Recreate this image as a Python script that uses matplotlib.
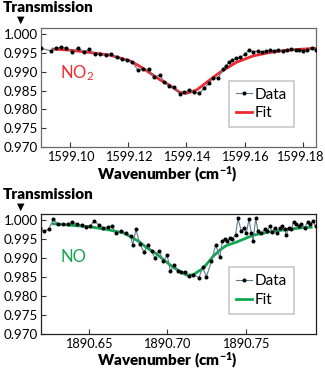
#=========================================================================
# transmission spectra: NO2 and NO lines with fits
#=========================================================================

import matplotlib
matplotlib.use('Agg')
import matplotlib.pyplot as plt
import matplotlib.transforms as mtrans

plt.rcParams['font.family']      = ['Lato', 'DejaVu Sans']
plt.rcParams['mathtext.default'] = 'regular'

#-------------------------------------------------------------------------
# Data
#-------------------------------------------------------------------------

# NO2 panel

no2_x = [
  1599.0900, 1599.0932, 1599.0952, 1599.0969, 1599.0986, 1599.1007,
  1599.1026, 1599.1047, 1599.1064, 1599.1084, 1599.1101, 1599.1122,
  1599.1139, 1599.1159, 1599.1178, 1599.1195, 1599.1214, 1599.1233,
  1599.1250, 1599.1270, 1599.1287, 1599.1308, 1599.1323, 1599.1339,
  1599.1357, 1599.1377, 1599.1392, 1599.1409, 1599.1426, 1599.1443,
  1599.1461, 1599.1477, 1599.1492, 1599.1509, 1599.1526, 1599.1536,
  1599.1546, 1599.1557, 1599.1572, 1599.1586, 1599.1601, 1599.1615,
  1599.1630, 1599.1645, 1599.1659, 1599.1673, 1599.1687, 1599.1701,
  1599.1716, 1599.1731, 1599.1745, 1599.1760, 1599.1776, 1599.1788,
  1599.1802, 1599.1816, 1599.1831, 1599.1846,
]

no2_y = [
  0.99620, 0.99557, 0.99637, 0.99647, 0.99628, 0.99514,
  0.99637, 0.99530, 0.99594, 0.99469, 0.99461, 0.99443,
  0.99477, 0.99381, 0.99328, 0.99302, 0.99249, 0.99044,
  0.99062, 0.99060, 0.98858, 0.98911, 0.98734, 0.98620,
  0.98585, 0.98407, 0.98452, 0.98505, 0.98452, 0.98425,
  0.98558, 0.98691, 0.98840, 0.98824, 0.99063, 0.99159,
  0.99249, 0.99310, 0.99355, 0.99381, 0.99461, 0.99575,
  0.99530, 0.99549, 0.99530, 0.99549, 0.99567, 0.99557,
  0.99583, 0.99549, 0.99567, 0.99602, 0.99583, 0.99575,
  0.99549, 0.99583, 0.99620, 0.99575,
]

no2_fit_x = [
  1599.0940, 1599.1000, 1599.1067, 1599.1136, 1599.1204, 1599.1240,
  1599.1273, 1599.1310, 1599.1342, 1599.1377, 1599.1400, 1599.1434,
  1599.1460, 1599.1480, 1599.1515, 1599.1572, 1599.1630, 1599.1687,
  1599.1745, 1599.1802, 1599.1842,
]

no2_fit_y = [
  0.99600, 0.99570, 0.99510, 0.99440, 0.99290, 0.99140,
  0.98970, 0.98780, 0.98640, 0.98450, 0.98425, 0.98510,
  0.98660, 0.98780, 0.98980, 0.99250, 0.99420, 0.99510,
  0.99570, 0.99600, 0.99620,
]

# NO panel

no_x = [
  1890.6191, 1890.6212, 1890.6244, 1890.6275, 1890.6307, 1890.6339,
  1890.6367, 1890.6396, 1890.6428, 1890.6456, 1890.6481, 1890.6508,
  1890.6536, 1890.6568, 1890.6593, 1890.6621, 1890.6646, 1890.6674,
  1890.6706, 1890.6735, 1890.6767, 1890.6780, 1890.6801, 1890.6826,
  1890.6852, 1890.6879, 1890.6900, 1890.6922, 1890.6949, 1890.6975,
  1890.7000, 1890.7021, 1890.7044, 1890.7070, 1890.7091, 1890.7112,
  1890.7140, 1890.7165, 1890.7203, 1890.7225, 1890.7250, 1890.7282,
  1890.7309, 1890.7335, 1890.7352, 1890.7367, 1890.7381, 1890.7398,
  1890.7415, 1890.7436, 1890.7451, 1890.7472, 1890.7487, 1890.7504,
  1890.7521, 1890.7536, 1890.7547, 1890.7564, 1890.7578, 1890.7600,
  1890.7621, 1890.7638, 1890.7653, 1890.7669, 1890.7684, 1890.7699,
  1890.7716, 1890.7733, 1890.7748, 1890.7758, 1890.7775, 1890.7790,
  1890.7805, 1890.7822, 1890.7839, 1890.7854, 1890.7875, 1890.7896,
  1890.7911, 1890.7928, 1890.7945,
]

no_y = [
  0.99796, 0.99708, 0.99752, 1.00018, 0.99885, 0.99903,
  0.99885, 0.99956, 0.99885, 0.99858, 0.99814, 0.99841,
  0.99973, 0.99858, 0.99796, 0.99814, 0.99841, 0.99664,
  0.99708, 0.99664, 0.99575, 0.99354, 0.99752, 0.99372,
  0.99159, 0.99336, 0.99177, 0.99000, 0.99195, 0.98912,
  0.99071, 0.98646, 0.98823, 0.98664, 0.98628, 0.98628,
  0.98531, 0.98558, 0.98487, 0.98752, 0.98513, 0.98912,
  0.99354, 0.99018, 0.99442, 0.99513, 0.99460, 0.99531,
  0.99513, 0.99619, 1.00044, 0.99708, 0.99779, 0.99664,
  1.00018, 0.99664, 0.99460, 1.00044, 0.99708, 0.99664,
  0.99752, 0.99708, 0.99841, 0.99690, 0.99796, 0.99664,
  0.99779, 0.99841, 0.99752, 0.99602, 0.99796, 0.99752,
  0.99956, 0.99885, 0.99841, 0.99885, 0.99796, 0.99956,
  0.99885, 0.99973, 0.99841,
]

no_fit_x = [
  1890.6275, 1890.6403, 1890.6508, 1890.6614, 1890.6720, 1890.6763,
  1890.6826, 1890.6869, 1890.6932, 1890.6975, 1890.7038, 1890.7081,
  1890.7123, 1890.7165, 1890.7229, 1890.7292, 1890.7335, 1890.7377,
  1890.7441, 1890.7547, 1890.7653, 1890.7758, 1890.7864, 1890.7917,
]

no_fit_y = [
  0.99903, 0.99858, 0.99823, 0.99752, 0.99664, 0.99570,
  0.99420, 0.99270, 0.99110, 0.98960, 0.98760, 0.98650,
  0.98550, 0.98560, 0.98730, 0.99040, 0.99210, 0.99330,
  0.99420, 0.99600, 0.99690, 0.99750, 0.99800, 0.99810,
]

yticks = [0.970, 0.975, 0.980, 0.985, 0.990, 0.995, 1.000]

no2_xticks = [1599.10, 1599.12, 1599.14, 1599.16, 1599.18]
no_xticks  = [1890.65, 1890.70, 1890.75]

#-------------------------------------------------------------------------
# Styles
#-------------------------------------------------------------------------

data_color = '#5d7d8e'
red        = '#ee2a2f'
green      = '#10a84f'

W, H = 325.0, 370.0

#-------------------------------------------------------------------------
# Create plot
#-------------------------------------------------------------------------

fig = plt.figure( figsize=(W/100, H/100), dpi=100 )

def panel( box, x, y, fx, fy, fcolor, xlim, xticks, label, label_xy,
           spine_color, top_px ):

  ax = fig.add_axes( box )

  ax.plot( x, y, '-', color=data_color, lw=0.8, marker='o', ms=1.9,
           mfc='black', mec='black', label='Data', zorder=3 )
  ax.plot( fx, fy, '-', color=fcolor, lw=2.0, label='Fit', zorder=2 )

  ax.set_xlim( xlim )
  ax.set_ylim( 0.970, 1.0016 )
  ax.set_yticks( yticks )
  ax.set_yticklabels( [ '%.3f' % v for v in yticks ] )
  ax.set_xticks( xticks )
  ax.set_xticklabels( [ '%.2f' % v for v in xticks ] )

  ax.tick_params( direction='in', length=3.5, width=0.8, labelsize=9.6,
                  color='#333333' )
  ax.tick_params( axis='y', pad=2 )
  ax.tick_params( axis='x', pad=3, labelsize=9.2 )

  for s in ax.spines.values():
    s.set_color( spine_color )
    s.set_linewidth( 0.9 )

  ax.text( label_xy[0], label_xy[1], label, color=fcolor, fontsize=12,
           transform=ax.transAxes, va='center', ha='left' )

  leg = ax.legend( loc='upper left', bbox_to_anchor=(0.685, 0.555),
                   fontsize=11, handlelength=1.0, handletextpad=0.2,
                   borderpad=0.45, labelspacing=0.3, fancybox=False,
                   framealpha=1.0, borderaxespad=0 )
  leg.get_frame().set_edgecolor( '#c8c8c8' )
  leg.get_frame().set_linewidth( 1.2 )

  # y-axis title with marker

  fig.text( 3/W, 1 - top_px/H, 'Transmission', fontsize=11,
            fontweight='heavy', ha='left', va='top' )
  fig.text( 21/W, 1 - (top_px + 19)/H, u'\u25bc', fontsize=7,
            ha='center', va='center', family='DejaVu Sans' )

  return ax

ax1 = panel( [41/W, 1 - 147/H, 275/W, 119/H], no2_x, no2_y,
             no2_fit_x, no2_fit_y, red, (1599.0899, 1599.1846),
             no2_xticks, 'NO$_2$', (0.07, 0.62), '#6a6a6a', 1 )

ax2 = panel( [41/W, 1 - 334/H, 275/W, 120/H], no_x, no_y,
             no_fit_x, no_fit_y, green, (1890.6196, 1890.7948),
             no_xticks, 'NO', (0.07, 0.64), '#222222', 188 )

# last NO2 tick label sits flush with the right edge

last = ax1.get_xticklabels()[-1]
last.set_horizontalalignment( 'right' )
last.set_transform( last.get_transform() +
                    mtrans.ScaledTranslation( 21/100., 0, fig.dpi_scale_trans ) )

# x-axis titles

for yc in [ 174, 360 ]:
  fig.text( 167/W, 1 - yc/H, 'Wavenumber (cm$^{-1}$)', fontsize=11,
            fontweight='heavy', ha='center', va='center' )

#-------------------------------------------------------------------------
# Save
#-------------------------------------------------------------------------

plt.savefig( 'out.png', dpi=100 )
